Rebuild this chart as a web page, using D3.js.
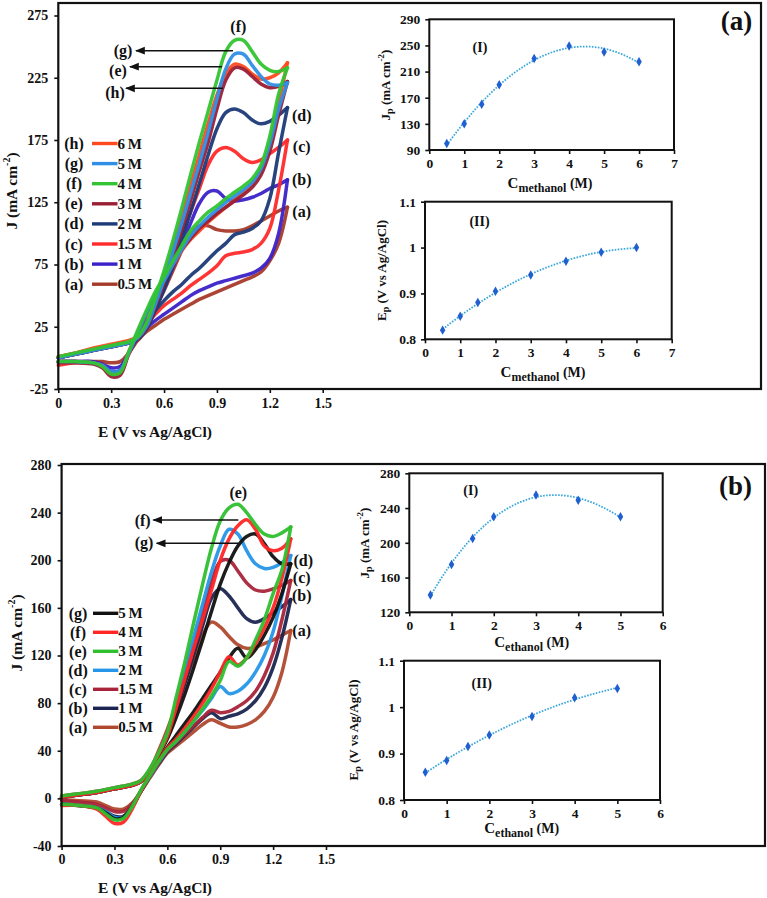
<!DOCTYPE html>
<html><head><meta charset="utf-8">
<script src="https://cdn.jsdelivr.net/npm/d3@7"></script>
<style>
body{margin:0;background:#fff;}
svg text{font-family:"Liberation Serif","Times New Roman",serif;font-weight:bold;fill:#111;}
</style></head><body>
<svg id="chart" width="767" height="898"></svg>
<script>
// ---------------- DATA ----------------
const cvXTicks = [0, 0.3, 0.6, 0.9, 1.2, 1.5];
const cvTopYTicks = [-25, 25, 75, 125, 175, 225, 275];
const cvBotYTicks = [-40, 0, 40, 80, 120, 160, 200, 240, 280];

// potential grids (V vs Ag/AgCl): forward sweep then reverse sweep
const fwdE = [0,0.1,0.2,0.3,0.4,0.45,0.5,0.55,0.6,0.65,0.7,0.75,0.8,0.85,0.9,0.95,1.0,1.05,1.1,1.15,1.2,1.25,1.3];
const revE = [1.3,1.25,1.2,1.15,1.1,1.05,1.0,0.95,0.9,0.85,0.8,0.75,0.7,0.65,0.6,0.55,0.5,0.45,0.4,0.35,0.3,0.25,0.2,0.1,0];

// Methanol CVs (J, mA cm-2) : (a) 0.5 M ... (h) 6 M
const methanolKeys = ["(a)","(b)","(c)","(d)","(e)","(f)","(g)","(h)"];
const methanolConcLabels = ["0.5 M","1 M","1.5 M","2 M","3 M","4 M","5 M","6 M"];
const methanolColors = ["#a63a2a","#3a22c8","#ff2a2a","#1c3a78","#9a1f35","#33c433","#2f8fe6","#ff4a1f"];
const methanolFwd = [
  [0,3,6,9,12,14,24,40,54,70,86,100,106,106,103,102,102,103,106,110,114,118,121],
  [0,3,6,9,12,15,25,40,56,73,90,108,124,133,134,128,126,127,129,132,136,139,143],
  [1,4,7,10,13,15,25,42,60,79,98,117,136,155,166,169,166,160,157,159,164,169,175],
  [0,3,6,9,12,15,23,38,55,74,95,117,140,163,184,197,200,197,191,188,190,195,201],
  [0,3,6,9,12,16,24,41,60,81,103,126,150,173,200,223,233,232,226,220,217,218,222],
  [1,4,7,10,13,17,28,48,70,94,120,147,173,198,223,246,255,255,246,236,231,230,233],
  [0,3,6,9,12,16,25,43,63,85,108,132,156,181,208,232,244,244,235,226,220,219,221],
  [1,4,8,11,14,17,26,45,66,89,113,138,163,188,211,228,236,234,228,224,225,229,237]
];
const methanolRev = [
  [121,92,78,69,65,62,59,56,53,50,47,43,39,35,31,26,21,14,4,-3,-4,-3,-3,-3,-3],
  [143,100,80,72,68,66,64,62,60,57,54,50,45,40,35,30,24,16,4,-7,-8,-5,-3,-3,-3],
  [175,135,104,92,87,85,84,82,74,68,63,58,52,47,42,35,27,17,3,-12,-13,-7,-4,-4,-6],
  [201,165,128,110,104,101,99,92,86,79,72,66,59,53,46,38,30,17,4,-10,-11,-6,-4,-3,-3],
  [222,195,166,147,137,131,126,121,116,110,104,96,87,76,63,50,36,20,4,-14,-15,-8,-5,-4,-4],
  [233,212,178,155,144,138,133,128,122,117,110,102,90,78,65,53,38,22,5,-12,-13,-7,-4,-3,-3],
  [221,200,172,152,141,135,130,125,119,113,106,98,87,75,62,50,36,20,4,-10,-11,-6,-4,-3,-3],
  [237,205,172,152,140,133,127,121,115,109,102,95,86,75,62,49,35,20,5,-11,-12,-6,-4,-3,-3]
];

// Ethanol CVs : (a) 0.5 M ... (g) 5 M
const ethanolKeys = ["(a)","(b)","(c)","(d)","(e)","(f)","(g)"];
const ethanolConcLabels = ["0.5 M","1 M","1.5 M","2 M","3 M","4 M","5 M"];
const ethanolColors = ["#b0482e","#1b2550","#a8243a","#2596e8","#2fbf2f","#ff2626","#111111"];
const ethanolFwd = [
  [1,3,5,8,11,14,24,40,58,78,98,118,137,148,144,136,129,126,127,130,133,137,141],
  [1,3,5,8,11,14,23,37,52,74,97,121,145,168,176,170,160,151,148,151,156,161,167],
  [2,4,6,9,12,15,24,37,53,78,104,130,156,181,199,200,191,181,175,174,176,179,183],
  [1,3,5,8,11,14,24,37,53,80,108,136,163,190,212,226,222,208,197,193,194,198,204],
  [2,4,6,9,12,15,25,38,55,85,115,148,180,210,233,244,247,240,230,222,220,223,228],
  [1,3,5,8,11,14,24,37,52,76,101,126,150,175,200,218,229,234,226,212,208,210,218],
  [1,3,5,8,11,14,23,36,50,68,88,110,133,157,180,198,212,220,222,214,203,197,197]
];
const ethanolRev = [
  [141,106,85,73,66,62,60,60,63,66,62,56,50,44,38,28,17,6,-4,-9,-9,-6,-3,-2,-1],
  [167,135,110,93,82,75,71,69,67,72,67,60,53,46,39,29,18,6,-7,-15,-15,-11,-8,-6,-5],
  [183,150,122,103,90,82,77,73,72,74,68,61,54,47,40,30,18,6,-5,-11,-11,-8,-5,-3,-2],
  [204,170,140,120,106,96,90,88,94,84,74,65,56,48,41,30,18,6,-7,-16,-16,-11,-8,-6,-5],
  [228,192,172,150,133,118,111,115,99,86,75,65,56,48,41,31,19,7,-7,-17,-18,-13,-8,-6,-5],
  [218,185,160,143,130,118,112,119,106,92,80,69,59,50,42,31,19,6,-9,-20,-21,-15,-9,-6,-6],
  [197,172,152,137,125,118,126,118,106,95,84,73,63,53,43,31,19,6,-7,-16,-17,-12,-8,-6,-5]
];

// Inset data
const methanolConc = [0.5,1,1.5,2,3,4,5,6];
const methanolJp = [100,130,160,190,230,249,240,225];
const methanolEp = [0.82,0.85,0.88,0.905,0.94,0.97,0.99,1.0];
const ethanolConc = [0.5,1,1.5,2,3,4,5];
const ethanolJp = [140,175,205,230,255,249,230];
const ethanolEp = [0.86,0.885,0.915,0.94,0.98,1.02,1.04];
const jpTopTicks = [90,130,170,210,250,290];
const jpBotTicks = [120,160,200,240,280];
const epTicks = [0.8,0.9,1.0,1.1];
const concTopTicks = [0,1,2,3,4,5,6,7];
const concBotTicks = [0,1,2,3,4,5,6];

// ---------------- DRAWING ----------------
const svg = d3.select("#chart");
const fmt = d => String(+(+d).toFixed(2));

const defs = svg.append("defs");
defs.append("marker").attr("id","arr").attr("viewBox","0 0 10 10").attr("refX",9).attr("refY",5)
  .attr("markerWidth",7).attr("markerHeight",7).attr("orient","auto")
  .append("path").attr("d","M0,1 L10,5 L0,9 z").attr("fill","#111");

function styleAxis(g, size) {
  g.select(".domain").remove();
  g.selectAll(".tick line").attr("stroke","#111").attr("stroke-width",1.6);
  g.selectAll(".tick text").style("font-size", size + "px").attr("fill","#111");
}

function drawCV(cfg) {
  const g = svg.append("g");
  const x = d3.scaleLinear().domain([0,1.5]).range(cfg.xr);
  const y = d3.scaleLinear().domain(cfg.yd).range(cfg.yr);

  const line = d3.line().x(d => x(d[0])).y(d => y(d[1])).curve(d3.curveCatmullRom.alpha(0.5));
  const cg = g.append("g");
  cfg.order.forEach(i => {
    [[fwdE, cfg.fwd[i]], [revE, cfg.rev[i]]].forEach(([es, js]) => {
      cg.append("path").attr("d", line(d3.zip(es, js)))
        .attr("fill","none").attr("stroke", cfg.colors[i]).attr("stroke-width", 3.5)
        .attr("stroke-linejoin","round").attr("stroke-linecap","round").attr("opacity",0.95);
    });
  });

  // frame
  g.append("rect").attr("x", cfg.frame[0]).attr("y", cfg.frame[1])
    .attr("width", cfg.frame[2]-cfg.frame[0]).attr("height", cfg.frame[3]-cfg.frame[1])
    .attr("fill","none").attr("stroke","#111").attr("stroke-width",2.2);

  const xa = g.append("g").attr("transform",`translate(0,${cfg.yr[0]})`)
    .call(d3.axisBottom(x).tickValues(cvXTicks).tickSize(4).tickPadding(cfg.xpad).tickFormat(fmt));
  styleAxis(xa, 14);
  const ya = g.append("g").attr("transform",`translate(${cfg.xr[0]},0)`)
    .call(d3.axisLeft(y).tickValues(cfg.yticks).tickSize(4).tickPadding(6).tickFormat(fmt));
  styleAxis(ya, 14);

  // axis titles
  g.append("text").attr("x", cfg.xtitle[0]).attr("y", cfg.xtitle[1]).attr("text-anchor","middle")
    .style("font-size","15.5px").text("E (V vs Ag/AgCl)");
  const yt = g.append("text").attr("transform",`translate(${cfg.ytitle[0]},${cfg.ytitle[1]}) rotate(-90)`)
    .attr("text-anchor","middle").attr("dominant-baseline","central").style("font-size","15.5px");
  yt.append("tspan").text("J (mA cm");
  yt.append("tspan").attr("dy",-5).style("font-size","10px").text("-2");
  yt.append("tspan").attr("dy",5).text(")");

  // legend
  cfg.legendOrder.forEach((idx, r) => {
    const yy = cfg.legend.y0 + r * cfg.legend.dy;
    g.append("text").attr("x", cfg.legend.kx).attr("y", yy).attr("text-anchor","middle")
      .attr("dominant-baseline","central").style("font-size","16px").text(cfg.keys[idx]);
    g.append("line").attr("x1", cfg.legend.l0).attr("x2", cfg.legend.l1).attr("y1", yy).attr("y2", yy)
      .attr("stroke", cfg.colors[idx]).attr("stroke-width",3.4);
    g.append("text").attr("x", cfg.legend.l1).attr("y", yy).attr("dominant-baseline","central")
      .style("font-size","15px").style("letter-spacing","-0.5px").text(cfg.concLabels[idx]);
  });

  // right-side labels
  cfg.rightLabels.forEach(([t, px, py]) => {
    g.append("text").attr("x", px).attr("y", py).attr("text-anchor","middle")
      .attr("dominant-baseline","central").style("font-size","16px").text(t);
  });
  // arrows
  cfg.arrows.forEach(([t, lx, ly, head, tail, ay]) => {
    g.append("line").attr("x1", tail).attr("x2", head).attr("y1", ay).attr("y2", ay)
      .attr("stroke","#111").attr("stroke-width",1.4).attr("marker-end","url(#arr)");
    g.append("text").attr("x", lx).attr("y", ly).attr("text-anchor","middle")
      .attr("dominant-baseline","central").style("font-size","16px").text(t);
  });
}

function polyfit(xs, ys, deg) {
  const n = deg + 1;
  const A = Array.from({length:n}, () => new Array(n+1).fill(0));
  for (let r = 0; r < n; r++) {
    for (let c = 0; c < n; c++) A[r][c] = d3.sum(xs, v => Math.pow(v, r+c));
    A[r][n] = d3.sum(xs.map((v,i) => Math.pow(v, r) * ys[i]));
  }
  for (let i = 0; i < n; i++) {
    let p = i;
    for (let k = i+1; k < n; k++) if (Math.abs(A[k][i]) > Math.abs(A[p][i])) p = k;
    [A[i], A[p]] = [A[p], A[i]];
    for (let k = i+1; k < n; k++) { const f = A[k][i]/A[i][i]; for (let j = i; j <= n; j++) A[k][j] -= f*A[i][j]; }
  }
  const coef = new Array(n).fill(0);
  for (let i = n-1; i >= 0; i--) { let s = A[i][n]; for (let j = i+1; j < n; j++) s -= A[i][j]*coef[j]; coef[i] = s/A[i][i]; }
  return v => coef.reduce((acc, c, i) => acc + c*Math.pow(v, i), 0);
}

function drawInset(cfg) {
  const g = svg.append("g");
  const x = d3.scaleLinear().domain(cfg.xd).range(cfg.xr);
  const y = d3.scaleLinear().domain(cfg.yd).range(cfg.yr);
  g.append("rect").attr("x", cfg.xr[0]).attr("y", cfg.yr[1]).attr("width", cfg.xr[1]-cfg.xr[0])
    .attr("height", cfg.yr[0]-cfg.yr[1]).attr("fill","none").attr("stroke","#111").attr("stroke-width",2);
  const xa = g.append("g").attr("transform",`translate(0,${cfg.yr[0]})`)
    .call(d3.axisBottom(x).tickValues(cfg.xticks).tickSize(4).tickPadding(4).tickFormat(fmt));
  styleAxis(xa, 13.5);
  const ya = g.append("g").attr("transform",`translate(${cfg.xr[0]},0)`)
    .call(d3.axisLeft(y).tickValues(cfg.yticks).tickSize(4).tickPadding(5).tickFormat(fmt));
  styleAxis(ya, 13.5);

  // trendline (polynomial fit of the data)
  const f = polyfit(cfg.xs, cfg.ys, cfg.deg);
  const x0 = d3.min(cfg.xs), x1 = d3.max(cfg.xs);
  const pts = d3.range(0, 101).map(i => { const v = x0 + (x1-x0)*i/100; return [v, f(v)]; });
  g.append("path").attr("d", d3.line().x(d => x(d[0])).y(d => y(d[1]))(pts))
    .attr("fill","none").attr("stroke","#3aa7dc").attr("stroke-width",1.8).attr("stroke-dasharray","1.6,1.4");
  g.selectAll(".pt").data(d3.zip(cfg.xs, cfg.ys)).join("path")
    .attr("transform", d => `translate(${x(d[0])},${y(d[1])})`)
    .attr("d", d3.symbol(d3.symbolDiamond, 26)).attr("fill","#1f5fcf");

  // titles
  g.append("text").attr("x", cfg.tag[1]).attr("y", cfg.tag[2]).attr("text-anchor","middle")
    .attr("dominant-baseline","central").style("font-size","14px").text(cfg.tag[0]);
  const xt = g.append("text").attr("x", cfg.xtitle[0]).attr("y", cfg.xtitle[1]).attr("text-anchor","middle")
    .style("font-size","15px");
  xt.append("tspan").text("C");
  xt.append("tspan").attr("dy",4).style("font-size","12px").text(cfg.sub);
  xt.append("tspan").attr("dy",-4).style("font-size","14px").text(" (M)");
  const yt = g.append("text").attr("transform",`translate(${cfg.ytitle[0]},${cfg.ytitle[1]}) rotate(-90)`)
    .attr("text-anchor","middle").attr("dominant-baseline","central").style("font-size","13px");
  yt.append("tspan").text(cfg.ysym);
  yt.append("tspan").attr("dy",4).style("font-size","10px").text("p");
  if (cfg.ysym === "J") {
    yt.append("tspan").attr("dy",-4).text(" (mA cm");
    yt.append("tspan").attr("dy",-4).style("font-size","9px").text("-2");
    yt.append("tspan").attr("dy",4).text(")");
  } else {
    yt.append("tspan").attr("dy",-4).text(" (V vs Ag/AgCl)");
  }
}

// ---- Panel (a): methanol ----
drawCV({
  xr:[58.3, 322.7], yd:[-25,275], yr:[389, 15.5], frame:[58.3, 3, 761, 389], xpad:5,
  yticks: cvTopYTicks, fwd: methanolFwd, rev: methanolRev, colors: methanolColors,
  keys: methanolKeys, concLabels: methanolConcLabels,
  order:[0,1,2,3,7,4,6,5],
  xtitle:[155, 437], ytitle:[11, 191],
  legendOrder:[7,6,5,4,3,2,1,0], legend:{y0:143.5, dy:20.1, kx:74, l0:92, l1:117.5},
  rightLabels:[["(d)",301.7,115],["(c)",301.7,146.7],["(b)",301.7,179],["(a)",301.7,211.7],["(f)",238.3,26]],
  arrows:[["(g)",123,50.5,136,233,50.7],["(e)",118,70.5,130,222,66.7],["(h)",115,92.5,126,223,88.3]]
});
drawInset({xd:[0,7], xr:[429.3,674], yd:[90,290], yr:[150,19.3], xticks:concTopTicks, yticks:jpTopTicks,
  xs:methanolConc, ys:methanolJp, deg:3, tag:["(I)",480,47], xtitle:[550,188], sub:"methanol",
  ytitle:[385,85], ysym:"J"});
drawInset({xd:[0,7], xr:[425,671.7], yd:[0.8,1.1], yr:[339.3,201.7], xticks:concTopTicks, yticks:epTicks,
  xs:methanolConc, ys:methanolEp, deg:2, tag:["(II)",479.5,221.7], xtitle:[543,377], sub:"methanol",
  ytitle:[381,270.5], ysym:"E"});
svg.append("text").attr("x",736.5).attr("y",21).attr("text-anchor","middle").attr("dominant-baseline","central")
  .style("font-size","27px").text("(a)");

// ---- Panel (b): ethanol ----
drawCV({
  xr:[61.6, 326], yd:[-40,280], yr:[846, 465], frame:[61.6, 464, 765, 846], xpad:4,
  yticks: cvBotYTicks, fwd: ethanolFwd, rev: ethanolRev, colors: ethanolColors,
  keys: ethanolKeys, concLabels: ethanolConcLabels,
  order:[0,1,2,3,6,5,4],
  xtitle:[155, 893], ytitle:[15.5, 633],
  legendOrder:[6,5,4,3,2,1,0], legend:{y0:613.3, dy:19, kx:78, l0:93, l1:118.3},
  rightLabels:[["(d)",303.3,560.7],["(c)",301.7,577.3],["(b)",301.7,595],["(a)",301.7,630.7],["(e)",238.3,492.7]],
  arrows:[["(f)",142.7,520.7,153.3,238.3,520],["(g)",144,542.7,156.7,238.3,543.3]]
});
drawInset({xd:[0,6], xr:[409.3,662.7], yd:[120,280], yr:[612.3,473.3], xticks:concBotTicks, yticks:jpBotTicks,
  xs:ethanolConc, ys:ethanolJp, deg:3, tag:["(I)",470.7,490], xtitle:[531.7,647], sub:"ethanol",
  ytitle:[364,543], ysym:"J"});
drawInset({xd:[0,6], xr:[404,660], yd:[0.8,1.1], yr:[800,660.7], xticks:concBotTicks, yticks:epTicks,
  xs:ethanolConc, ys:ethanolEp, deg:2, tag:["(II)",481.7,683.3], xtitle:[521.7,833], sub:"ethanol",
  ytitle:[353,730], ysym:"E"});
svg.append("text").attr("x",735.5).attr("y",485.5).attr("text-anchor","middle").attr("dominant-baseline","central")
  .style("font-size","27px").text("(b)");
</script>
</body></html>
